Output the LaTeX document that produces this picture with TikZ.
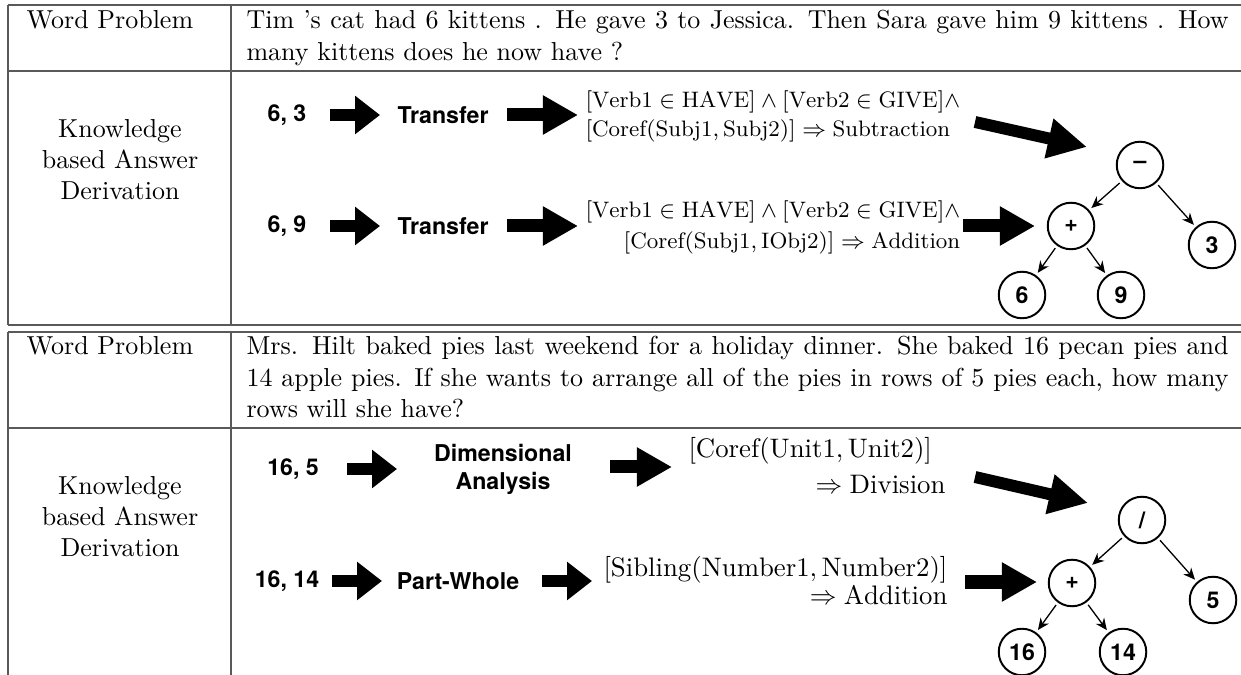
\RequirePackage{fix-cm}
\documentclass[tikz,border=0pt]{standalone}
\usepackage{fontspec}
\newfontfamily\hv{TeX Gyre Heros}
\usetikzlibrary{arrows.meta,calc}
\tikzset{
  tline/.style={draw=black!65, line width=0.55pt},
  txt/.style={inner sep=0, font=\fontsize{10}{12}\selectfont},
  lbl/.style={inner sep=0, font=\hv\bfseries\fontsize{8.9}{10}\selectfont},
  fat/.style={line width=4.6pt, -{Triangle[length=9.6pt,width=14.2pt]}},
  fatb/.style={line width=5pt, -{Triangle[length=13.5pt,width=14.2pt]}},
  fatd/.style={line width=4.6pt, -{Triangle[length=15pt,width=14.6pt]}},
  tnode/.style={circle, draw, line width=0.75pt, minimum size=17.9pt, inner sep=0, outer sep=1.5pt, font=\hv\bfseries\fontsize{8.9}{10}\selectfont},
  tedge/.style={line width=0.5pt, -{Stealth[length=4.5pt,width=4pt]}},
  mth/.style={inner sep=0, font=\fontsize{8.6}{10}\selectfont},
  mthb/.style={inner sep=0, font=\fontsize{10.3}{12}\selectfont}
}
\begin{document}
\begin{tikzpicture}[x=0.3846pt,y=-0.3846pt]
\fill[white] (0,0) rectangle (1241,675);
\useasboundingbox (0,0) rectangle (1241,675);
% ---------- table rules ----------
\draw[tline] (8,5) -- (1241,5);
\draw[tline] (8,71) -- (1241,71);
\draw[tline] (8,325) -- (1241,325);
\draw[tline] (8,5) -- (8,325);
\draw[tline] (231,5) -- (231,325);
\draw[tline] (8,332) -- (1241,332);
\draw[tline] (8,428) -- (1241,428);
\draw[tline] (8,332) -- (8,675);
\draw[tline] (231,332) -- (231,675);
% ---------- block 1 text ----------
\node[txt, anchor=base west] (wp1l) at (26,29) {Word Problem};
\node[txt, anchor=base west] (wp1r) at (246,29) {\parbox[t]{377.7pt}{\fontsize{10}{12}\selectfont Tim 's cat had 6 kittens . He gave 3 to Jessica. Then Sara gave him 9 kittens . How\linebreak many kittens does he now have ?}};
\node[txt, anchor=base] (k1a) at (120,138) {Knowledge};
\node[txt, anchor=base] (k1b) at (120,169) {based Answer};
\node[txt, anchor=base] (k1c) at (120,200) {Derivation};
% row 1
\node[lbl] (n63) at (287,115) {6, 3};
\coordinate (a1s) at (330,115); \coordinate (a1e) at (380,115);
\draw[fat] (a1s) -- (a1e);
\node[lbl] (tr1) at (443,115) {Transfer};
\coordinate (a2s) at (507,115); \coordinate (a2e) at (578,115);
\draw[fatb] (a2s) -- (a2e);
\node[mth, anchor=base west] (m1a) at (585,108) {$[\mathrm{Verb1}\in\mathrm{HAVE}]\wedge[\mathrm{Verb2}\in\mathrm{GIVE}]\wedge$};
\node[mth, anchor=base west] (m1b) at (585,137) {$[\mathrm{Coref}(\mathrm{Subj1},\mathrm{Subj2})]\Rightarrow\mathrm{Subtraction}$};
\coordinate (d1s) at (975,122); \coordinate (d1e) at (1087,147);
\draw[fatd] (d1s) -- (d1e);
% row 2
\node[lbl] (n69) at (287,226) {6, 9};
\coordinate (a3s) at (330,226); \coordinate (a3e) at (380,226);
\draw[fat] (a3s) -- (a3e);
\node[lbl] (tr2) at (443,226) {Transfer};
\coordinate (a4s) at (507,226); \coordinate (a4e) at (578,226);
\draw[fatb] (a4s) -- (a4e);
\node[mth, anchor=base west] (m2a) at (585,218) {$[\mathrm{Verb1}\in\mathrm{HAVE}]\wedge[\mathrm{Verb2}\in\mathrm{GIVE}]\wedge$};
\node[mth, anchor=base east] (m2b) at ($(m2a.base east)+(0,31)$) {$[\mathrm{Coref}(\mathrm{Subj1},\mathrm{IObj2})]\Rightarrow\mathrm{Addition}$};
\coordinate (h1s) at (963,226); \coordinate (h1e) at (1035,226);
\draw[fatb] (h1s) -- (h1e);
% tree 1
\node[tnode] (t1m) at (1140,165) {\textendash};
\node[tnode] (t1p) at (1071,226) {+};
\node[tnode] (t13) at (1212,245) {3};
\node[tnode] (t16) at (1022,295) {6};
\node[tnode] (t19) at (1121,295) {9};
\draw[tedge] (t1m) -- (t1p);
\draw[tedge] (t1m) -- (t13);
\draw[tedge] (t1p) -- (t16);
\draw[tedge] (t1p) -- (t19);
% ---------- block 2 text ----------
\node[txt, anchor=base west] (wp2l) at (26,355) {Word Problem};
\node[txt, anchor=base west] (wp2r) at (246,355) {\parbox[t]{377.7pt}{\fontsize{10}{12}\selectfont Mrs. Hilt baked pies last weekend for a holiday dinner. She baked 16 pecan pies and\linebreak 14 apple pies. If she wants to arrange all of the pies in rows of 5 pies each, how many\linebreak rows will she have?}};
\node[txt, anchor=base] (k2a) at (120,495) {Knowledge};
\node[txt, anchor=base] (k2b) at (120,526) {based Answer};
\node[txt, anchor=base] (k2c) at (120,557) {Derivation};
% row 1
\node[lbl] (n165) at (293,469) {16, 5};
\coordinate (b1s) at (347,469); \coordinate (b1e) at (397,469);
\draw[fat] (b1s) -- (b1e);
\node[lbl] (da1) at (503,453) {Dimensional};
\node[lbl] (da2) at (503,483) {Analysis};
\coordinate (b2s) at (610,467); \coordinate (b2e) at (672,467);
\draw[fatb] (b2s) -- (b2e);
\node[mthb, anchor=base west] (m3a) at (688,458) {$[\mathrm{Coref}(\mathrm{Unit1},\mathrm{Unit2})]$};
\node[mthb, anchor=base east] (m3b) at (946,494) {$\Rightarrow\mathrm{Division}$};
\coordinate (d2s) at (975,477); \coordinate (d2e) at (1088,503);
\draw[fatd] (d2s) -- (d2e);
% row 2
\node[lbl] (n1614) at (287,581) {16, 14};
\coordinate (b3s) at (332,581); \coordinate (b3e) at (382,581);
\draw[fat] (b3s) -- (b3e);
\node[lbl] (pw) at (458,581) {Part-Whole};
\coordinate (b4s) at (542,581); \coordinate (b4e) at (592,581);
\draw[fat] (b4s) -- (b4e);
\node[mthb, anchor=base west] (m4a) at (603,576) {$[\mathrm{Sibling}(\mathrm{Number1},\mathrm{Number2})]$};
\node[mthb, anchor=base east] (m4b) at (m4a.base east |- 0,604) {$\Rightarrow\mathrm{Addition}$};
\coordinate (h2s) at (965,582); \coordinate (h2e) at (1037,582);
\draw[fatb] (h2s) -- (h2e);
% tree 2
\node[tnode] (t2d) at (1142,520) {/};
\node[tnode] (t2p) at (1072,583) {+};
\node[tnode] (t25) at (1213,600) {5};
\node[tnode] (t216) at (1022,652) {16};
\node[tnode] (t214) at (1123,652) {14};
\draw[tedge] (t2d) -- (t2p);
\draw[tedge] (t2d) -- (t25);
\draw[tedge] (t2p) -- (t216);
\draw[tedge] (t2p) -- (t214);
\end{tikzpicture}
\end{document}
